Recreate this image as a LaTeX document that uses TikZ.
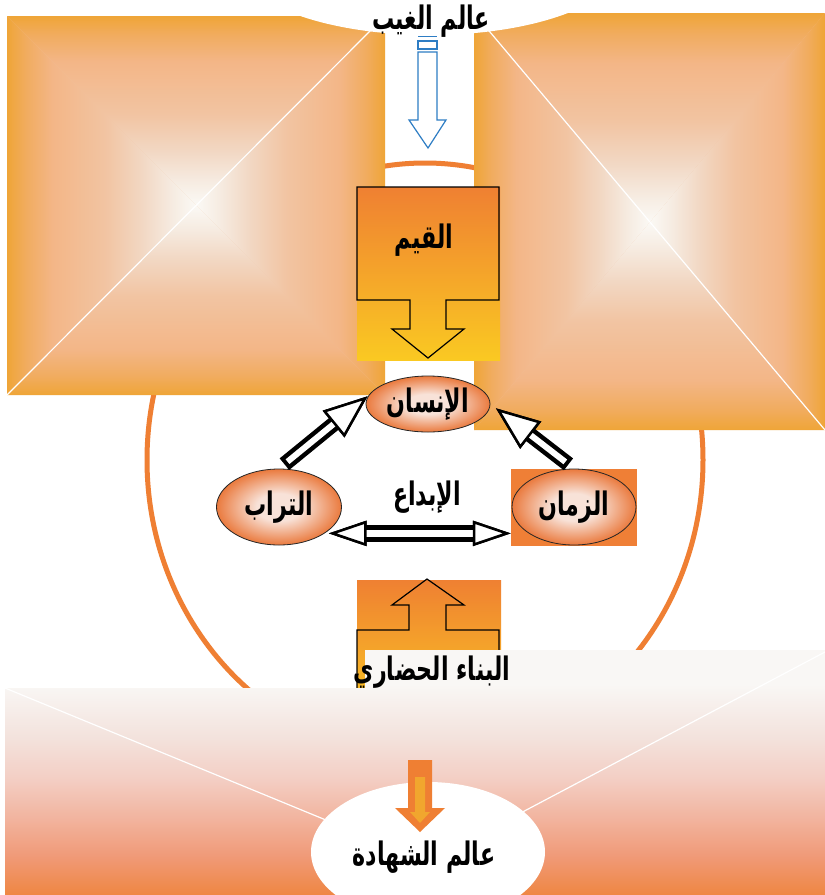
\documentclass[tikz,border=0pt]{standalone}
\usepackage{fontspec}
\newfontfamily\arabicfont[Script=Arabic]{DejaVu Sans}
\TeXXeTstate=1
\usetikzlibrary{shapes.geometric,arrows.meta}

\definecolor{sqedge}{RGB}{239,165,55}
\definecolor{sqwarm}{RGB}{241,172,95}
\definecolor{sqpeach}{RGB}{243,182,135}
\definecolor{sqmid}{RGB}{242,196,162}
\definecolor{sqpale}{RGB}{242,216,196}
\definecolor{sqlight}{RGB}{246,236,226}
\definecolor{sqcore}{RGB}{251,249,245}
\definecolor{ringorange}{RGB}{239,127,51}
\definecolor{skyblue}{RGB}{46,125,196}
\definecolor{qiyamtop}{RGB}{239,128,50}
\definecolor{qiyambot}{RGB}{250,201,34}
\definecolor{eggout}{RGB}{234,122,62}
\definecolor{eggin}{RGB}{248,226,216}
\definecolor{zamanorange}{RGB}{239,127,54}
\definecolor{groundtop}{RGB}{249,247,245}
\definecolor{groundpale}{RGB}{243,226,220}
\definecolor{groundpink}{RGB}{243,207,197}
\definecolor{groundsalmon}{RGB}{242,181,160}
\definecolor{groundrose}{RGB}{240,154,120}
\definecolor{groundbot}{RGB}{239,134,66}
\definecolor{arrowgold}{RGB}{241,166,46}

\pgfdeclarehorizontalshading{pyr}{100bp}{color(0bp)=(sqedge); color(25bp)=(sqedge); color(30bp)=(sqwarm); color(37bp)=(sqpeach); color(51bp)=(sqmid); color(61bp)=(sqpale); color(69bp)=(sqlight); color(75bp)=(sqcore); color(100bp)=(sqcore)}
\pgfdeclareverticalshading{ground}{100bp}{color(0bp)=(groundbot); color(25bp)=(groundbot); color(33bp)=(groundrose); color(41bp)=(groundsalmon); color(49bp)=(groundpink); color(57bp)=(groundpale); color(68bp)=(groundtop); color(100bp)=(groundtop)}
\pgfdeclareradialshading{eggshade}{\pgfpoint{0bp}{0bp}}{color(0bp)=(eggin); color(9bp)=(eggin); color(25bp)=(eggout); color(50bp)=(eggout)}

\newcommand\artext[1]{\scalebox{0.82}[1.2]{\arabicfont\beginR #1\endR}}
\newcommand\pyrsquare[6]{%
  \fill[sqmid] (#1,#2) rectangle (#3,#4);
  \shade[shading=pyr] (#1,#2) -- (#1,#4) -- (#5,#6) -- cycle;
  \shade[shading=pyr,shading angle=180] (#3,#2) -- (#3,#4) -- (#5,#6) -- cycle;
  \shade[shading=pyr,shading angle=-90] (#1,#2) -- (#3,#2) -- (#5,#6) -- cycle;
  \shade[shading=pyr,shading angle=90] (#1,#4) -- (#3,#4) -- (#5,#6) -- cycle;}

\begin{document}
\begin{tikzpicture}[x=1pt,y=-1pt,>={Triangle[color=black,fill=white,length=44pt,width=34pt,line width=2.5pt]}]
            \tikzstyle{lbl}=[font=\arabicfont\bfseries\fontsize{27}{30}\selectfont,inner sep=0pt]
            \tikzstyle{egg}=[ellipse,draw=black!85,line width=0.8pt,shade,shading=eggshade,inner sep=0pt,font=\arabicfont\bfseries\fontsize{27}{30}\selectfont]
            \tikzstyle{rim}=[line width=15pt,black,->]
            \tikzstyle{core}=[line width=6pt,white,->]
            \useasboundingbox (0,0) rectangle (825,895);
            \clip (0,0) rectangle (825,895);
            \fill[white] (0,0) rectangle (825,895);
            \draw[ringorange,line width=5pt] (425,460) ellipse [x radius=278,y radius=297];
            \pyrsquare{7}{16}{385}{395}{196}{205}
            \pyrsquare{474}{13}{825}{430}{650}{222}
            \draw[white,line width=1.2pt] (7,395) -- (385,16);
            \draw[white,line width=1.2pt] (474,13) -- (825,430);
            \fill[white] (430,-40) ellipse [x radius=195,y radius=75];
            \node[lbl] (ghayb) at (431,21) {\artext{عالم الغيب}};
            \draw[skyblue,line width=1pt] (418,36) -- (437,36);
            \draw[skyblue,line width=1.2pt] (418,41) rectangle (437,49);
            \draw[skyblue,line width=1.2pt,fill=white] (418,52) -- (437,52) -- (437,120) -- (446,120) -- (428,148) -- (409,120) -- (418,120) -- cycle;
            \shade[top color=qiyamtop,bottom color=qiyambot] (357,187) rectangle (500,360);
            \draw[line width=1.2pt] (357,187) -- (499,187) -- (499,300) -- (446,300) -- (446,329) -- (464,329) -- (428,358) -- (392,329) -- (410,329) -- (410,300) -- (357,300) -- cycle;
            \node[lbl] (qiyam) at (424,240) {\artext{القيم}};
            \node[egg,minimum width=124pt,minimum height=56pt] (insan) at (428,404) {\artext{الإنسان}};
            \node[egg,minimum width=125pt,minimum height=76pt] (turab) at (279,507) {\artext{التراب}};
            \node[fill=zamanorange,minimum width=126pt,minimum height=77pt,inner sep=0pt] (zamanbox) at (574,507) {};
            \node[egg,minimum width=124pt,minimum height=76pt] (zaman) at (574,507) {\artext{الزمان}};
            \draw[rim,shorten <=7pt,shorten >=1pt] (turab.north) -- (insan.172);
            \draw[core,shorten <=11pt,shorten >=1pt] (turab.north) -- (insan.172);
            \draw[rim,shorten <=7pt,shorten >=7pt] (zaman.north) -- (insan.east);
            \draw[core,shorten <=11pt,shorten >=7pt] (zaman.north) -- (insan.east);
            \node[lbl] (ibdaa) at (427,497) {\artext{الإبداع}};
            \begin{scope}[>={Triangle[color=black,fill=white,length=38pt,width=25pt,line width=2.5pt]}]
              \draw[line width=17pt,black,<->,shorten <=4pt] (turab.-30) -- (turab.-30 -| zamanbox.west);
              \draw[line width=7pt,white,<->,shorten <=4pt] (turab.-30) -- (turab.-30 -| zamanbox.west);
            \end{scope}
            \shade[top color=qiyamtop,bottom color=qiyambot] (357,580) rectangle (501,720);
            \draw[line width=1.2pt] (357,720) -- (357,630) -- (409,630) -- (409,605) -- (392,605) -- (427,579) -- (464,605) -- (446,605) -- (446,630) -- (499,630) -- (499,720);
            \shade[shading=ground] (5,688) -- (365,688) -- (365,650) -- (825,650) -- (825,895) -- (5,895) -- cycle;
            \draw[white,line width=1.2pt] (5,688) -- (428,862) -- (825,652);
            \node[lbl] (binaa) at (432,672) {\artext{البناء الحضاري}};
            \node[ellipse,fill=white,minimum width=234pt,minimum height=140pt] (shahada) at (428,852) {};
            \fill[ringorange] (408,760) -- (432,760) -- (432,808) -- (445,808) -- (420,832) -- (395,808) -- (408,808) -- cycle;
            \fill[arrowgold] (415,777) -- (425,777) -- (425,812) -- (430,812) -- (420,823) -- (410,812) -- (415,812) -- cycle;
            \node[lbl] (shahadatxt) at (424,857) {\artext{عالم الشهادة}};
          \end{tikzpicture}
\end{document}
